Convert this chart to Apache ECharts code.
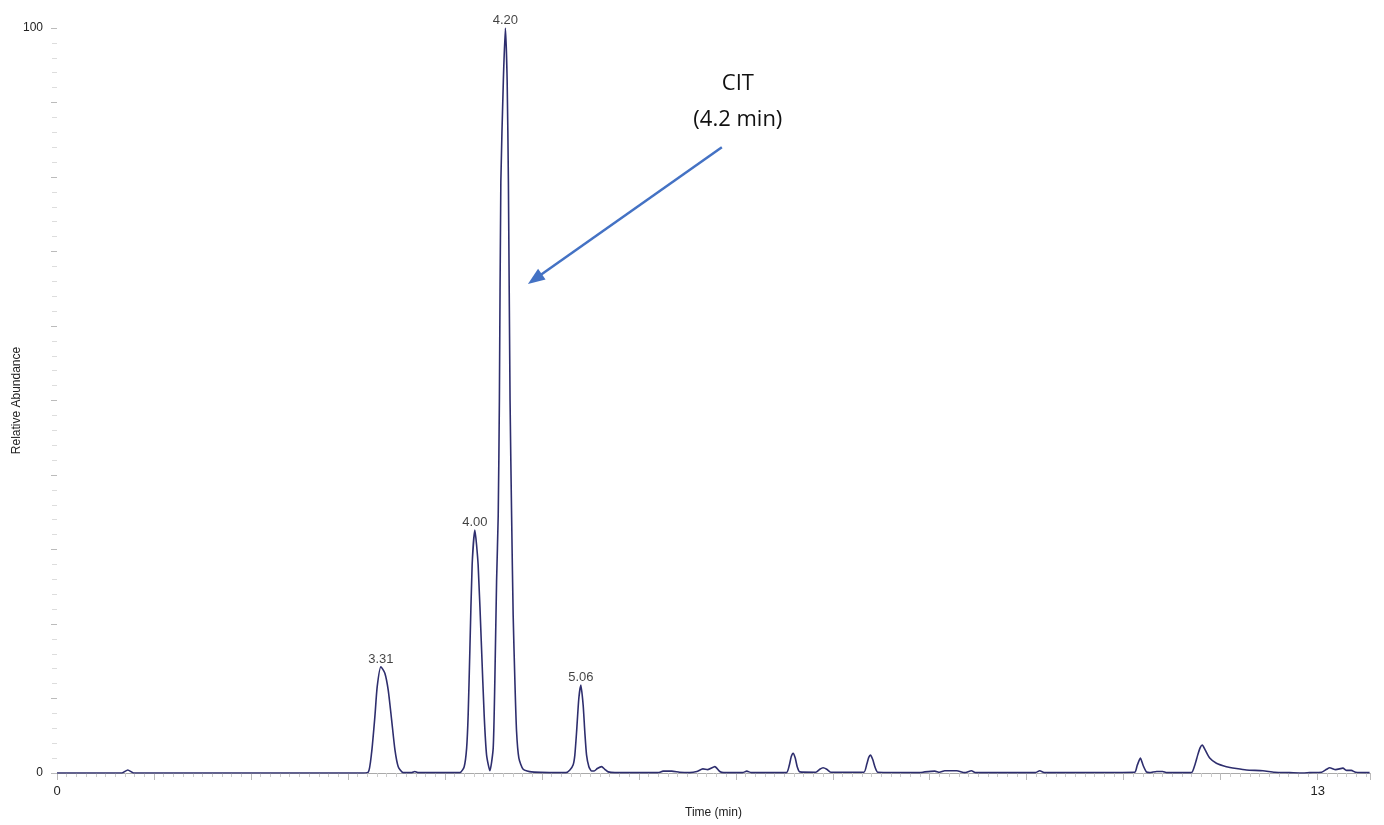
<!DOCTYPE html>
<html>
<head>
<meta charset="utf-8">
<script src="https://cdn.jsdelivr.net/npm/echarts@6/dist/echarts.min.js"></script>
<style>
html,body{margin:0;padding:0;background:#fff;}
#chart{width:1384px;height:825px;}
</style>
</head>
<body>
<div id="chart"></div>
<script>
// Retention time (min)
const times = [
  0, 0.67, 0.73, 0.79, 3.12, 3.209, 3.244, 3.278, 3.302, 3.340, 3.381, 3.416, 3.451, 3.485, 3.519, 3.570,
  3.66, 3.69, 3.72, 4.155, 4.199, 4.224, 4.240, 4.258, 4.281, 4.309, 4.343, 4.378, 4.405, 4.430, 4.464,
  4.498, 4.515, 4.533, 4.550, 4.562, 4.577, 4.603, 4.624, 4.642, 4.655, 4.672, 4.688, 4.704, 4.722, 4.739,
  4.763, 4.807, 4.894, 5.25, 5.289, 5.323, 5.340, 5.358, 5.381, 5.402, 5.426, 5.443, 5.461, 5.485, 5.512,
  5.539, 5.572, 5.616, 5.649, 5.684, 5.753, 6.20, 6.25, 6.34, 6.42, 6.526, 6.598, 6.66, 6.711, 6.784,
  6.835, 6.876, 7.07, 7.113, 7.16, 7.522, 7.551, 7.572, 7.591, 7.613, 7.634, 7.660, 7.825, 7.866, 7.900,
  7.938, 7.979, 8.320, 8.351, 8.371, 8.389, 8.412, 8.438, 8.464, 8.90, 8.948, 9.052, 9.10, 9.155, 9.278,
  9.361, 9.43, 9.474, 10.09, 10.134, 10.186, 11.113, 11.139, 11.172, 11.201, 11.234, 11.268, 11.340,
  11.402, 11.443, 11.698, 11.732, 11.763, 11.789, 11.811, 11.840, 11.887, 11.956, 12.059, 12.162, 12.265,
  12.436, 12.557, 12.712, 12.845, 12.918, 13.041, 13.093, 13.124, 13.186, 13.261, 13.299, 13.347, 13.392,
  13.536
];
// Relative abundance (%)
const abundance = [
  0, 0, 0.4, 0, 0, 0.1, 2.7, 7.56, 11.6, 14.27, 13.4, 11.1, 7.1, 3.1, 0.85, 0.05,
  0.05, 0.2, 0.05, 0.05, 0.85, 3.3, 7.8, 16.7, 27.9, 32.6, 27.9, 16.7, 7.8, 2.4, 0.3,
  3.3, 12.3, 25.7, 34.6, 50, 79.3, 93, 100, 93, 79.3, 50, 34.6, 21.2, 12.3, 5.6,
  2.0, 0.5, 0.15, 0.05, 0.4, 1.1, 2.4, 5.5, 10, 11.8, 9.1, 5.5, 2.4, 0.85, 0.27,
  0.27, 0.6, 0.85, 0.5, 0.15, 0.05, 0.05, 0.25, 0.25, 0.1, 0.05, 0.2, 0.55, 0.45, 0.85,
  0.2, 0.05, 0.05, 0.25, 0.05, 0.05, 1.0, 2.2, 2.64, 2.0, 0.8, 0.15, 0.1, 0.5, 0.7,
  0.5, 0.1, 0.1, 1.2, 2.1, 2.4, 1.8, 0.7, 0.1, 0.05, 0.15, 0.25, 0.1, 0.3, 0.3,
  0.05, 0.3, 0.05, 0.05, 0.3, 0.05, 0.1, 1.0, 2.0, 1.0, 0.15, 0.05, 0.2,
  0.2, 0.05, 0.05, 1.0, 2.4, 3.4, 3.75, 3.1, 2.0, 1.3, 0.85, 0.6, 0.4,
  0.3, 0.1, 0.05, 0, 0.05, 0.1, 0.5, 0.7, 0.45, 0.65, 0.35, 0.35, 0.1,
  0.05
];
// Labelled peaks
const peakTimes = [3.340, 4.309, 4.624, 5.402];
const peakHeights = [14.27, 32.6, 100, 11.8];
const peakLabels = ['3.31', '4.00', '4.20', '5.06'];
// Axis tick labels shown
const xTickLabels = [0, 13];
const yTickLabels = [0, 100];
// Annotation
const annotationText = 'CIT\n(4.2 min)';
const annotationTextAt = [7.021, 90.15];
const arrowFrom = [6.856, 84.0];
const arrowTo = [4.928, 66.3];

const trace = times.map((t, i) => [t, abundance[i]]);
const peaks = peakTimes.map((t, i) => [t, peakHeights[i], peakLabels[i]]);

const chart = echarts.init(document.getElementById('chart'), null, {renderer: 'canvas'});
chart.setOption({
  animation: false,
  backgroundColor: '#ffffff',
  grid: {left: 57, right: 14, top: 28, bottom: 52, containLabel: false, outerBoundsMode: 'none'},
  xAxis: {
    type: 'value', min: 0, max: 13.54, interval: 1,
    name: 'Time (min)', nameLocation: 'middle', nameGap: 34, nameMoveOverlap: false,
    nameTextStyle: {fontFamily: 'Liberation Sans, Arial', fontSize: 12, color: '#222'},
    axisLine: {show: true, lineStyle: {color: '#aaa', width: 1}},
    axisTick: {show: true, length: 7, lineStyle: {color: '#bbb'}},
    minorTick: {show: true, splitNumber: 10, length: 4, lineStyle: {color: '#ccc'}},
    splitLine: {show: false},
    axisLabel: {
      margin: 12, fontFamily: 'Liberation Sans, Arial', fontSize: 13, color: '#222',
      showMaxLabel: false,
      formatter: v => xTickLabels.includes(Math.round(v * 1000) / 1000) ? String(v) : ''
    }
  },
  yAxis: {
    type: 'value', min: 0, max: 100, interval: 10,
    name: 'Relative Abundance', nameLocation: 'middle', nameGap: 34, nameRotate: 90, nameMoveOverlap: false,
    nameTextStyle: {fontFamily: 'Liberation Sans, Arial', fontSize: 12, color: '#222'},
    axisLine: {show: false},
    axisTick: {show: true, length: 6, lineStyle: {color: '#bbb'}},
    minorTick: {show: true, splitNumber: 5, length: 5, lineStyle: {color: '#ddd'}},
    splitLine: {show: false},
    axisLabel: {
      margin: 14, fontFamily: 'Liberation Sans, Arial', fontSize: 12, color: '#222',
      formatter: v => yTickLabels.includes(v) ? String(v) : ''
    }
  },
  series: [
    {
      type: 'line', data: trace, showSymbol: false, symbol: 'none',
      smooth: 0.2, clip: true,
      lineStyle: {color: '#2e2e6e', width: 1.6},
      z: 3,
      markLine: {
        silent: true, animation: false,
        symbol: ['none', 'triangle'], symbolSize: [13, 17],
        label: {show: false},
        lineStyle: {color: '#4472C4', width: 2.5, type: 'solid'},
        data: [[{coord: arrowFrom}, {coord: arrowTo}]]
      },
      markPoint: {
        silent: true, animation: false,
        symbol: 'circle', symbolSize: 0,
        data: [{coord: annotationTextAt, value: annotationText}],
        label: {
          show: true, position: 'inside', formatter: annotationText,
          fontFamily: 'Open Sans', fontSize: 22, lineHeight: 36, color: '#111', align: 'center'
        }
      }
    },
    {
      type: 'scatter', data: peaks, symbolSize: 0, silent: true,
      label: {
        show: true, position: 'top', distance: 1,
        formatter: p => p.value[2],
        fontFamily: 'Liberation Sans, Arial', fontSize: 13, color: '#111'
      },
      z: 4
    }
  ]
});
</script>
</body>
</html>
